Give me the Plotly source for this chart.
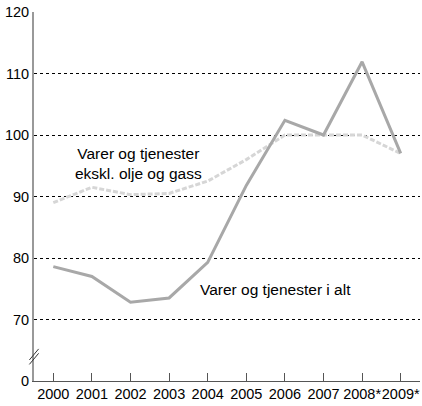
import plotly.graph_objects as go

years = ["2000", "2001", "2002", "2003", "2004", "2005", "2006", "2007", "2008*", "2009*"]
total = [78.6, 77.0, 72.8, 73.5, 79.3, 91.8, 102.4, 100.0, 111.9, 97.0]
ex_oil = [89.0, 91.5, 90.3, 90.5, 92.5, 96.0, 100.0, 100.0, 100.0, 97.0]
y_tickvals = [60, 70, 80, 90, 100, 110, 120]
y_ticktext = ["0", "70", "80", "90", "100", "110", "120"]

font = "Liberation Sans, Arial, sans-serif"
x = list(range(len(years)))

fig = go.Figure()
fig.add_trace(go.Scatter(x=x, y=ex_oil, mode="lines",
                         line=dict(color="#d6d6d6", width=3, dash="5px,2px"),
                         showlegend=False, hoverinfo="skip"))
fig.add_trace(go.Scatter(x=x, y=total, mode="lines",
                         line=dict(color="#a8a8a8", width=3),
                         showlegend=False, hoverinfo="skip"))

fig.add_annotation(x=2.2, y=95.4, text="Varer og tjenester<br>ekskl. olje og gass",
                   showarrow=False, font=dict(family=font, size=15.5, color="#000"))
fig.add_annotation(x=5.75, y=74.8, text="Varer og tjenester i alt",
                   showarrow=False, font=dict(family=font, size=15.5, color="#000"))

# axis break marks
for dy in (0.0, 0.012):
    fig.add_shape(type="line", xref="paper", yref="paper",
                  x0=-0.012, x1=0.012, y0=0.045 + dy, y1=0.075 + dy,
                  line=dict(color="#333", width=1))

fig.update_layout(
    width=422, height=406,
    margin=dict(l=34, r=2, t=12, b=25),
    paper_bgcolor="white", plot_bgcolor="white",
    font=dict(family=font, size=14, color="#000"),
    xaxis=dict(range=[-0.5, 9.5], tickvals=x, ticktext=years,
               showgrid=False, zeroline=False, tickangle=0,
               showline=True, linecolor="#555", linewidth=1,
               ticks="inside", ticklen=8, tickcolor="#555", tickwidth=1,
               tickfont=dict(size=14.5)),
    yaxis=dict(range=[60, 120], tickvals=y_tickvals, ticktext=y_ticktext,
               showgrid=True, gridcolor="#000", gridwidth=1, griddash="dot",
               zeroline=False, showline=True, linecolor="#999", linewidth=2,
               ticks="", tickfont=dict(size=14.5)),
)

fig.write_html("out.html", config={"displayModeBar": False},
               post_script="document.body.style.margin='0';document.body.style.overflow='hidden';")
